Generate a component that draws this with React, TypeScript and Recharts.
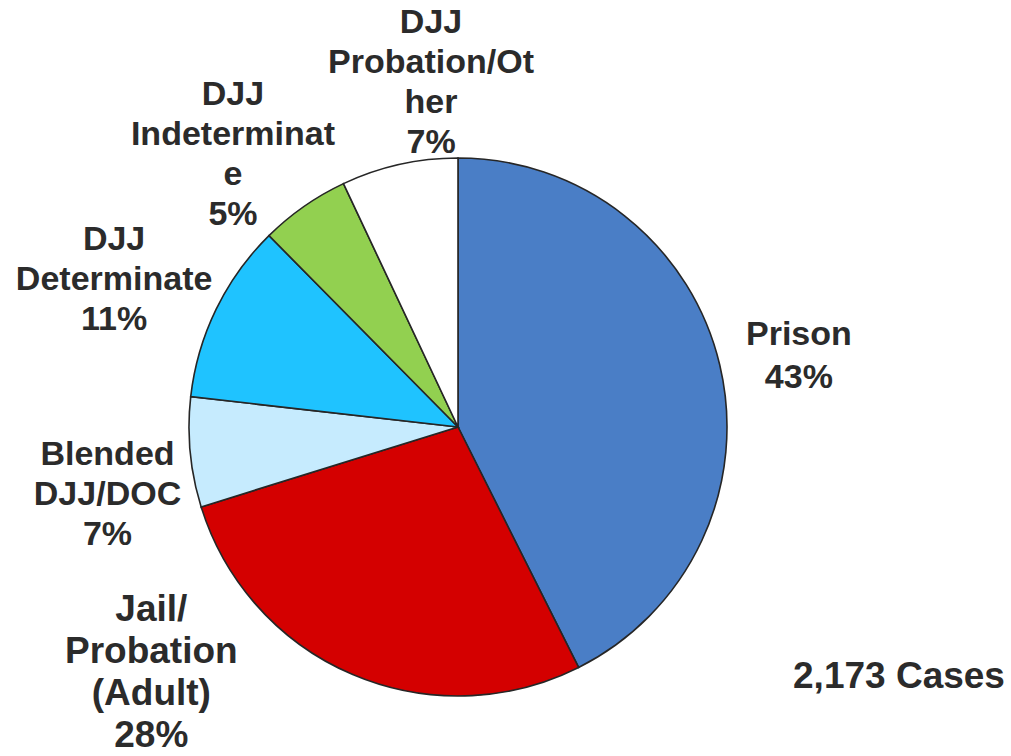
import { Cell, Pie, PieChart } from "recharts";

// shares (percent of 2,173 cases), clockwise from 12 o'clock
const categories = [
  "Prison",
  "Jail/Probation (Adult)",
  "Blended DJJ/DOC",
  "DJJ Determinate",
  "DJJ Indeterminate",
  "DJJ Probation/Other",
];
const shares = [42.6, 27.6, 6.6, 10.8, 5.4, 7.0];
const shownPercents = ["43%", "28%", "7%", "11%", "5%", "7%"];
// label text broken the way the original wraps it
const labelLines = [
  ["Prison"],
  ["Jail/", "Probation", "(Adult)"],
  ["Blended", "DJJ/DOC"],
  ["DJJ", "Determinate"],
  ["DJJ", "Indeterminat", "e"],
  ["DJJ", "Probation/Ot", "her"],
];
const totalCases = "2,173 Cases";

const colors = ["#4A7EC6", "#D40000", "#C6EBFE", "#1FC3FF", "#92D050", "#FFFFFF"];

// label placement: shift from a point just outside the slice, plus font size / line height
const labelNudge = [
  [11, 6],
  [-174, -68],
  [-13, 34],
  [-39, -1],
  [-31, 4],
  [47, -15],
];
const labelFont = [34, 37, 34, 34, 34, 34];
const labelLeading = [43, 42, 40, 40, 40, 40];

const TEXT_COLOR = "#2b2b2b";
const FONT = "'Liberation Sans', Arial, sans-serif";
const RADIAN = Math.PI / 180;

const chartData = categories.map((name, i) => ({ name, value: shares[i] }));

function renderLabel(props: any) {
  const { cx, cy, midAngle, outerRadius, index } = props;
  const r = outerRadius + 70;
  const x = cx + r * Math.cos(-midAngle * RADIAN) + labelNudge[index][0];
  const y = cy + r * Math.sin(-midAngle * RADIAN) + labelNudge[index][1];
  const lines = [...labelLines[index], shownPercents[index]];
  const size = labelFont[index];
  const lead = labelLeading[index];
  const first = y - ((lines.length - 1) * lead) / 2 + size * 0.35;

  return (
    <text
      x={x}
      y={first}
      textAnchor="middle"
      fill={TEXT_COLOR}
      fontFamily={FONT}
      fontWeight={700}
      fontSize={size}
    >
      {lines.map((line, i) => (
        <tspan key={i} x={x} y={first + i * lead}>
          {line}
        </tspan>
      ))}
    </text>
  );
}

export default function App() {
  return (
    <div
      style={{
        position: "absolute",
        left: 0,
        top: 0,
        width: 1011,
        height: 756,
        background: "#ffffff",
      }}
    >
      <PieChart
        width={1011}
        height={756}
        margin={{ top: 0, right: 0, bottom: 0, left: 0 }}
      >
        <Pie
          data={chartData}
          dataKey="value"
          nameKey="name"
          cx={458}
          cy={427}
          outerRadius={269}
          startAngle={90}
          endAngle={-270}
          stroke="#262626"
          strokeWidth={1.6}
          label={renderLabel}
          labelLine={false}
          isAnimationActive={false}
        >
          {chartData.map((entry, i) => (
            <Cell key={entry.name} fill={colors[i]} />
          ))}
        </Pie>
      </PieChart>
      <svg
        width={1011}
        height={756}
        style={{ position: "absolute", left: 0, top: 0, pointerEvents: "none" }}
      >
        <text
          x={899}
          y={688}
          textAnchor="middle"
          fill={TEXT_COLOR}
          fontFamily={FONT}
          fontWeight={700}
          fontSize={37}
        >
          {totalCases}
        </text>
      </svg>
    </div>
  );
}
